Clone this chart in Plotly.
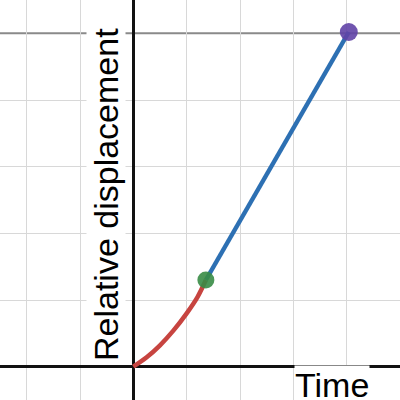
import plotly.graph_objects as go

# accelerating phase
accel_t = [0, 0.25, 0.5, 0.75, 1.0, 1.2, 1.36]
accel_d = [0, 0.14, 0.32, 0.54, 0.80, 1.04, 1.30]

# constant-velocity phase (blue segment)
coast_t = [1.36, 4.04]
coast_d = [1.30, 5.02]

# marker points
start_pt = (1.36, 1.30)
end_pt = (4.04, 5.02)
level = 5

# grid positions (the line at y=5 is drawn separately, darker)
x_grid = [-2, -1, 0, 1, 2, 3, 4, 5]
y_grid = [0, 1, 2, 3, 4]

font = 'Arial, Liberation Sans, sans-serif'

fig = go.Figure()
fig.add_hline(y=level, line=dict(color='#8a8a8a', width=2), layer='below')
fig.add_trace(go.Scatter(x=accel_t, y=accel_d, mode='lines', line_shape='spline',
                         line=dict(color='#c74440', width=4.5)))
fig.add_trace(go.Scatter(x=coast_t, y=coast_d, mode='lines',
                         line=dict(color='#2d70b3', width=4.5)))
fig.add_trace(go.Scatter(x=[start_pt[0]], y=[start_pt[1]], mode='markers',
                         marker=dict(color='#388c46', size=17, opacity=0.9)))
fig.add_trace(go.Scatter(x=[end_pt[0]], y=[end_pt[1]], mode='markers',
                         marker=dict(color='#6042a6', size=18, opacity=0.9)))

axis = dict(showgrid=True, gridcolor='#d8d8d8', gridwidth=1, tickmode='array',
            zeroline=True, zerolinecolor='#111111', zerolinewidth=2.5,
            showticklabels=False, ticks='', showline=False, fixedrange=True)

fig.update_layout(
    width=400, height=400,
    margin=dict(l=0, r=0, t=0, b=0),
    paper_bgcolor='white', plot_bgcolor='white',
    showlegend=False,
    xaxis=dict(range=[-2.5, 5], tickvals=x_grid, **axis),
    yaxis=dict(range=[-0.5, 5.5], tickvals=y_grid, **axis),
    font=dict(family=font, color='black'),
)
fig.add_annotation(text='Relative displacement', textangle=-90,
                   xref='paper', yref='paper', x=106 / 400, y=1 - 195 / 400,
                   xanchor='center', yanchor='middle', showarrow=False,
                   bgcolor='white', borderpad=0, font=dict(size=34, family=font))
fig.add_annotation(text='Time', xref='paper', yref='paper',
                   x=332 / 400, y=1 - 385 / 400, xanchor='center', yanchor='middle',
                   showarrow=False, bgcolor='white', borderpad=0,
                   font=dict(size=34, family=font))

fig.write_html("out.html", config={'displayModeBar': False},
               post_script="document.body.style.margin='0';")
